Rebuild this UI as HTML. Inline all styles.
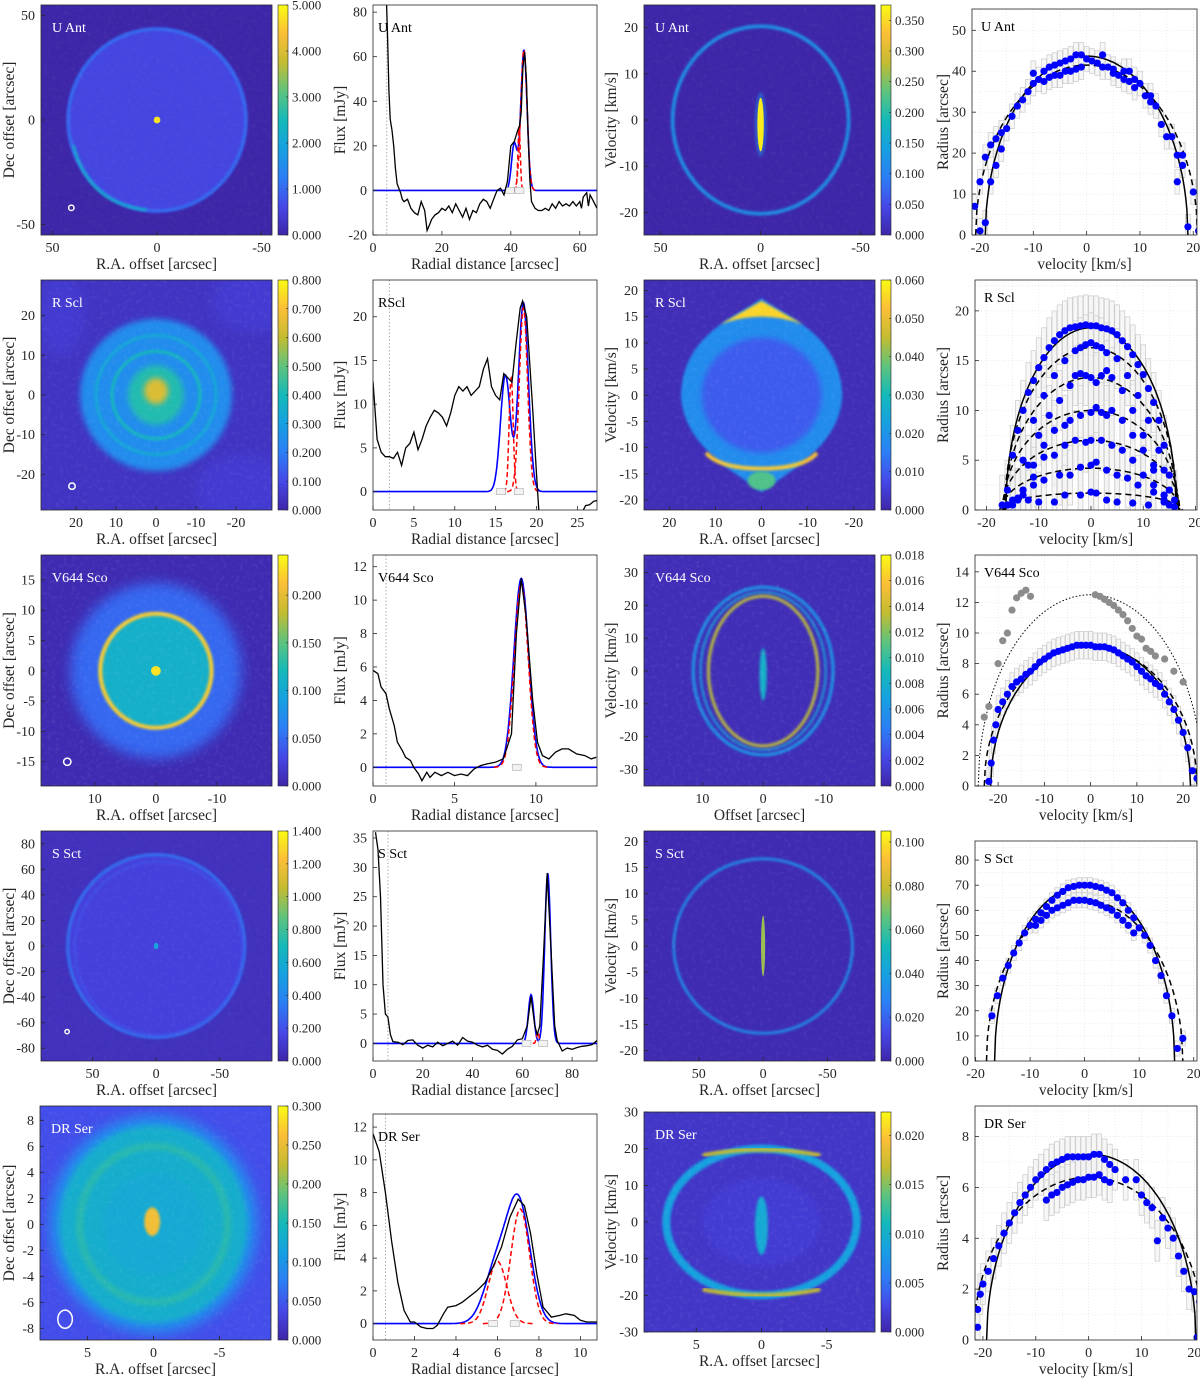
<!DOCTYPE html>
<html><head><meta charset="utf-8"><title>Shell figure</title>
<style>
html,body{margin:0;padding:0;background:#fff;}
svg{display:block;font-family:"Liberation Serif",serif;}
</style></head>
<body>
<svg id="fig" width="1200" height="1379" viewBox="0 0 1200 1379" xmlns="http://www.w3.org/2000/svg">
<defs>
<filter id="b1" x="-20%" y="-20%" width="140%" height="140%"><feGaussianBlur stdDeviation="1.2"/></filter>
<filter id="b2" x="-20%" y="-20%" width="140%" height="140%"><feGaussianBlur stdDeviation="3"/></filter>
<filter id="b3" x="-30%" y="-30%" width="160%" height="160%"><feGaussianBlur stdDeviation="6"/></filter>
<filter id="noise"><feTurbulence type="fractalNoise" baseFrequency="0.25" numOctaves="2" seed="3"/><feColorMatrix type="matrix" values="0 0 0 0 1  0 0 0 0 1  0 0 0 0 1  0 0 0 1.1 -0.55"/></filter>
</defs>
</svg>
<script>
// ---------- Profile data (col 2) ----------
const uAntFluxObs=[[3.8,90],[4.2,70],[4.6,45],[5,32],[5.5,27],[6,20],[6.5,10],[7,3],[7.5,1],[8,-1],[8.5,-4],[9,-5],[10,-4],[11,-8],[12,-10],[13,-11],[14,-5],[15,-9],[15.7,-18],[16.5,-15],[17,-13],[18,-11],[19,-10],[20,-8],[21,-9],[22,-7],[23,-10],[24,-6],[25,-9],[26,-12],[27,-8],[28,-13],[29,-9],[30,-10],[31,-6],[32,-4],[33,-5],[34,-8],[35,-4],[36,0],[37,1],[38,-2],[39,4],[40,20],[41,22],[42,27],[42.5,29],[43,35],[43.5,55],[44,62],[44.5,50],[45,25],[45.5,5],[46,-5],[47,-8],[48,-9],[49,-9],[50,-8],[51,-9],[52,-6],[53,-8],[54,-5],[55,-7],[56,-6],[57,-7],[58,-5],[59,-7],[60,-5],[60.5,-8],[61,-3],[62,-1],[62.5,-7],[63,-2],[64,-5],[65,-8]];
const uAntBlueComps=[[41,21,0.8],[43.8,63,0.9]];
const uAntRedComps=[[42.4,28,0.35],[43.8,63,0.9]];
const rSclFluxObs=[[0,12.6],[0.5,6],[1,4.5],[1.5,4],[2,4],[2.5,3.8],[3,4.5],[3.5,3],[4,5],[4.5,5.5],[5,6.8],[5.5,4.8],[6,6],[6.5,7.5],[7,8.5],[7.5,9.3],[8,9],[8.5,8.5],[9,7.5],[9.5,9],[10,11],[10.5,12],[11,11.5],[11.5,12],[12,11],[12.5,11.5],[13,12],[13.5,14],[14,15.2],[14.5,12],[15,11],[15.5,10.5],[16,13.5],[16.5,13],[17,12.5],[17.5,17],[18,21],[18.3,21.8],[18.8,20],[19.5,10],[20,2],[20.3,-2.5]];
const rSclFluxTail=[[25.5,-2.5],[26,-1.6],[26.5,-1.5],[27,-1.1],[27.5,-1]];
const rSclBlueComps=[[16.2,13.3,0.6],[18.4,21.6,0.6]];
const rSclRedComps=[[16.9,13,0.25],[18.4,21,0.5]];
const v644FluxObs=[[0,5.8],[0.3,5.6],[0.5,4.8],[0.8,4.4],[1,3.5],[1.3,2.5],[1.5,1.5],[1.8,1],[2,0.6],[2.3,0.4],[2.5,0],[2.8,-0.4],[3,-0.8],[3.3,-0.3],[3.5,-0.6],[3.8,-0.3],[4.2,-0.5],[4.6,-0.3],[5,-0.5],[5.4,-0.4],[5.8,-0.5],[6.2,-0.1],[6.6,0.1],[7,0.2],[7.5,0.3],[8,0.5],[8.5,2],[8.8,8],[9.1,11.3],[9.4,9],[9.8,4],[10.1,1.5],[10.4,0.7],[10.8,0.5],[11.2,0.9],[11.6,1.1],[12,1.1],[12.5,0.8],[13,0.7],[13.4,0.5],[13.7,0.6]];
const v644BlueComps=[[9.1,11.3,0.45]];
const v644RedComps=[[9.1,11,0.42]];
const sSctFluxObs=[[1,36],[2,33],[3,25],[4,10],[5,5],[6,4.5],[7,1.5],[8,0.3],[10,0.2],[12,-0.2],[14,0.5],[16,0.6],[18,-0.3],[20,-0.8],[22,-0.3],[24,-0.6],[26,0.2],[28,-0.4],[30,0],[32,0.4],[34,-0.3],[36,1],[38,0.4],[40,0.2],[42,-0.3],[44,-0.6],[46,-0.3],[48,-1],[50,-1.2],[52,-1.8],[54,-1],[56,-0.5],[58,0.6],[60,0.8],[62,3],[63.5,8],[65,3],[66,1.5],[67,3],[68.5,15],[70,29],[71.5,16],[73,3],[74,0.5],[76,-1.3],[78,-0.8],[80,-1],[82,-0.7],[84,-0.5],[86,-0.4],[88,-0.2],[90,0.5]];
const sSctBlueComps=[[63.5,8.3,1.1],[70.2,29,1.2]];
const sSctRedComps=[[66.2,2,0.5]];
const drSerFluxObs=[[0,11.6],[0.3,10.5],[0.6,8],[0.9,5],[1.2,2.5],[1.5,0.8],[1.8,0.1],[2,0.1],[2.3,-0.2],[2.6,-0.3],[2.9,-0.3],[3.1,-0.1],[3.4,0.6],[3.6,1],[4,1.1],[4.3,1.3],[4.6,1.6],[5,2],[5.4,2.5],[5.8,3.5],[6.2,4.7],[6.6,6.5],[7,7.6],[7.3,7.2],[7.6,5.5],[7.9,3],[8.2,1],[8.6,0.4],[9,0.5],[9.3,0.6],[9.7,0.5],[10,0.2],[10.3,0.1],[10.8,0.1]];
const drSerBlueComps=[[6.0,3.6,0.6],[7.05,7,0.55]];
const drSerRedComps=[[6.0,3.8,0.45],[7.1,7,0.45]];

// ---------- Radius-velocity data (col 4) ----------
const uAntShellPts=[[-21,7],[-20,1],[-20,13],[-19,19],[-19,3],[-18,22],[-18,13],[-17,17],[-17,23.5],[-16,25],[-16,21],[-15,26],[-14,29],[-13,31.5],[-12,33],[-11,35],[-10,39.5],[-10,37],[-9,38],[-8,40],[-8,37.5],[-7,41],[-7,38.5],[-6,41.5],[-6,39],[-5,42],[-5,39],[-4,42.5],[-4,40],[-3,43],[-3,40],[-2,44],[-2,40.5],[-1,44],[-1,41],[0,43],[1,42.5],[2,42],[3,44],[3,41],[4,41],[5,40.5],[5,39.5],[6,39],[7,38],[7,40],[8,37.5],[8,40],[9,38],[9,36],[10,37],[11,34],[12,32.5],[12,34],[13,31.5],[14,27],[15,24],[16,24],[17,19.5],[17,13],[18,19.5],[18,17],[19,2],[20,10.5],[21,1]];
const uAntFits=[[43.7,19,0],[41.5,20.8,0]];
const rSclShellPts=[[-16,2],[-15,5.5],[-14,8],[-13,10],[-12,11.8],[-11,13],[-10,14.3],[-9,15.3],[-8,16.3],[-7,17],[-6,17.6],[-5,18],[-4,18.3],[-3,18.4],[-2,18.5],[-1,18.6],[0,18.5],[1,18.5],[2,18.3],[3,18.2],[4,18],[5,17.6],[6,17],[7,16.4],[8,15.6],[9,14.6],[10,13.6],[11,12.2],[12,10.8],[13,9],[14,6.5],[15,3.5],[16,1],
[-15,1],[-13,5],[-11,9],[-9,11.5],[-7,13.5],[-5,15],[-3,16],[-2,16.3],[-1,16.6],[0,16.8],[1,16.5],[2,16.3],[3,15.8],[5,15.2],[7,13.5],[9,11.5],[11,9],[13,6],[14,4],[15,2],
[-14,1],[-12,4.5],[-10,7.5],[-8,9.5],[-6,11],[-4,12.5],[-3,13.5],[-2,13.7],[-1,13.5],[0,13.3],[1,12.8],[2,13.5],[3,14],[4,13.3],[6,12],[8,10],[10,7.5],[12,4.5],[14,1.5],
[-15,0.5],[-13,2],[-11,4.5],[-9,6.5],[-7,8],[-5,8.5],[-4,9],[-2,9.5],[0,9.8],[1,10.3],[2,9.8],[3,9.5],[4,10],[6,9],[8,7.5],[10,6],[12,4],[14,1.5],
[-16,0.5],[-13,2],[-11,3.3],[-9,5.3],[-7,5.5],[-5,6.5],[-3,7],[-1,6.8],[0,7],[2,7],[4,6.5],[6,6],[8,5],[10,3.5],[12,2.5],[14,1],
[-16,0.5],[-13,1.5],[-11,2.5],[-9,3],[-6,3.5],[-4,3.5],[-2,4.3],[0,4.5],[1,4.8],[3,4],[5,3.5],[7,3.2],[9,2.5],[12,1.8],[15,0.5],
[-17,0.5],[-14,1.2],[-12,1],[-10,0.8],[-7,0.8],[-5,1.5],[-2,1.5],[0,1.8],[1,1.7],[3,1],[5,0.8],[8,0.7],[11,0.5],[14,0.8],[16,0.3]];
const rSclFits=[[18.3,16.3,0],[16.3,16.5,0],[13.3,16.5,0],[10,16.8,0],[7,17,0],[4.2,17,0],[1.7,17.5,0]];
const rSclFitStyles=["solid","dash","dash","dash","dash","dash","dash"];
const v644ShellPts=[[-22,0.3],[-21.5,1.5],[-21,3],[-20.5,4],[-20,5],[-19,5.5],[-18,6],[-17,6.5],[-16,6.8],[-15,7],[-14,7.3],[-13,7.5],[-12,7.8],[-11,8.1],[-10,8.3],[-9,8.5],[-8,8.7],[-7,8.8],[-6,8.9],[-5,9],[-4,9.1],[-3,9.2],[-2,9.2],[-1,9.2],[0,9.2],[1,9.1],[2,9.1],[3,9.1],[4,9],[5,8.9],[6,8.7],[7,8.5],[8,8.3],[9,8.1],[10,7.8],[11,7.5],[12,7.2],[13,7],[14,6.7],[15,6.5],[16,6],[17,5.5],[18,5],[19,4.3],[20,3.5],[21,2.5],[22,1],[23,0.5]];
const v644OuterPts=[[-23,4.5],[-22,5.2],[-20,8],[-19,9.5],[-18,10],[-17,11.5],[-16,12.3],[-15,12.6],[-14,12.8],[-13,12.4],[1,12.5],[2,12.4],[3,12.2],[4,12],[5,11.8],[6,11.5],[7,11.2],[8,10.8],[9,10.3],[10,9.8],[11,9.6],[12,9],[13,8.8],[14,8.5],[16,8.3],[18,7.5],[20,6.8]];
const v644Fits=[[12.5,24.3,0],[9.2,21.6,0],[9.1,23,0]];
const v644FitStyles=["dot","solid","dash"];
const sSctShellPts=[[-17,18],[-16,26],[-15,33],[-14,38],[-13,43],[-12,47],[-11,51],[-10,54],[-9,56.5],[-8,59],[-7,61.5],[-6,64],[-5,66],[-4,67.5],[-3,69],[-2,69.5],[-1,70],[0,70],[1,70],[2,69.5],[3,69],[4,68],[5,67],[6,65],[7,63],[8,60],[9,57],[10,53],[11,50],[12,46],[13,40],[14,34],[15,26],[16,18],[17,5],[18,9],
[-9,54],[-8,56],[-7,58],[-6,60],[-5,61],[-4,62],[-3,63],[-2,64],[-1,64],[0,64],[1,63.5],[2,63],[3,62],[4,61],[5,60],[6,58],[7,56],[8,54],[9,51]];
const sSctFits=[[70,16.5,0],[64,18,0]];
const drSerShellPts=[[-21,0.5],[-21,1.2],[-20.5,1.8],[-20,2.2],[-19,2.7],[-18,3.2],[-17,3.7],[-16,4.2],[-15,4.6],[-14,5],[-13,5.4],[-12,5.7],[-11,6],[-10,6.3],[-9,6.5],[-8,6.7],[-7,6.9],[-6,7],[-5,7.1],[-4,7.2],[-3,7.2],[-2,7.2],[-1,7.2],[0,7.2],[1,7.3],[2,7.3],[3,7.1],[4,6.9],[5,6.7],[7,6.3],[9,6.3],[10,5.7],[11,5.4],[12,5.2],[13,3.9],[14,4.8],[15,4.4],[16,4],[17,3.3],[18,2.7],[19,2],[20,1.9],[21,1.5],[22,0.7],[20.5,0.1],
[-8,5.5],[-7,5.7],[-6,5.8],[-5,6],[-4,6.1],[-3,6.2],[-2,6.3],[-1,6.3],[0,6.4],[1,6.4],[2,6.5],[3,6.3],[4,6.2]];
const drSerFits=[[7.3,19.8,0.5],[6.4,21.8,0]];

// ---------- Colorbar tick labels ----------
const uAntMapTicks=["0.000","1.000","2.000","3.000","4.000","5.000"];
const rSclMapTicks=["0.000","0.100","0.200","0.300","0.400","0.500","0.600","0.700","0.800"];
const v644MapTicks=["0.000","0.050","0.100","0.150","0.200"];
const sSctMapTicks=["0.000","0.200","0.400","0.600","0.800","1.000","1.200","1.400"];
const drSerMapTicks=["0.000","0.050","0.100","0.150","0.200","0.250","0.300"];
const uAntPvTicks=["0.000","0.050","0.100","0.150","0.200","0.250","0.300","0.350"];
const rSclPvTicks=["0.000","0.010","0.020","0.030","0.040","0.050","0.060"];
const v644PvTicks=["0.000","0.002","0.004","0.006","0.008","0.010","0.012","0.014","0.016","0.018"];
const sSctPvTicks=["0.000","0.020","0.040","0.060","0.080","0.100"];
const drSerPvTicks=["0.000","0.005","0.010","0.015","0.020"];

// ---------- helpers ----------
const NS='http://www.w3.org/2000/svg';
const svg=document.getElementById('fig');
function add(parent,tag,attrs,name){
  const el=document.createElementNS(NS,tag);
  for(const k in attrs) el.setAttribute(k,attrs[k]);
  
  
  parent.appendChild(el);
  return el;
}
function txt(parent,x,y,s,attrs,name){
  const el=add(parent,'text',Object.assign({x:x,y:y},attrs||{}),name);
  el.textContent=s;
  return el;
}
const stops=[[0,[62,38,168]],[0.125,[70,72,232]],[0.25,[44,126,245]],[0.375,[22,160,225]],[0.5,[20,185,185]],[0.625,[95,195,125]],[0.75,[195,188,50]],[0.875,[252,190,55]],[1,[249,251,20]]];
function cm(t){
  t=Math.max(0,Math.min(1,t));
  for(let i=1;i<stops.length;i++){
    if(t<=stops[i][0]){
      const a=stops[i-1],b=stops[i],f=(t-a[0])/(b[0]-a[0]);
      const c=a[1].map((v,j)=>Math.round(v+(b[1][j]-v)*f));
      return 'rgb('+c.join(',')+')';
    }
  }
  return 'rgb(249,251,20)';
}
const defs=svg.querySelector('defs');
const lg=add(defs,'linearGradient',{id:'parula',x1:0,y1:1,x2:0,y2:0},'parula-gradient');
stops.forEach(s=>{add(lg,'stop',{offset:s[0],'stop-color':cm(s[0])},'gradient-stop');});

function scales(box,xl,yl){
  return {
    sx:v=>box.x0+(v-xl[0])/(xl[1]-xl[0])*(box.x1-box.x0),
    sy:v=>box.y1-(v-yl[0])/(yl[1]-yl[0])*(box.y1-box.y0),
    kx:(box.x1-box.x0)/Math.abs(xl[1]-xl[0]),
    ky:(box.y1-box.y0)/(yl[1]-yl[0])
  };
}
function frame(g,box,ticksX,ticksY,S,opt){
  add(g,'rect',{x:box.x0,y:box.y0,width:box.x1-box.x0,height:box.y1-box.y0,fill:'none',stroke:'#262626','stroke-width':0.8},'axes-frame');
  ticksX.forEach(t=>{
    const x=S.sx(t);
    add(g,'line',{x1:x,y1:box.y1,x2:x,y2:box.y1-4,stroke:'#262626','stroke-width':0.8},'x-tick');
    txt(g,x,box.y1+17,String(t),{'font-size':14,'text-anchor':'middle',fill:'#262626'},'x-tick-label');
  });
  ticksY.forEach(t=>{
    const y=S.sy(t);
    add(g,'line',{x1:box.x0,y1:y,x2:box.x0+4,y2:y,stroke:'#262626','stroke-width':0.8},'y-tick');
    txt(g,box.x0-6,y+4.5,String(t),{'font-size':14,'text-anchor':'end',fill:'#262626'},'y-tick-label');
  });
  txt(g,(box.x0+box.x1)/2,box.y1+34,opt.xlabel,{'font-size':15.5,'text-anchor':'middle',fill:'#262626'},'x-axis-title');
  const yx=opt.ylabelX, yy=(box.y0+box.y1)/2;
  txt(g,yx,yy,opt.ylabel,{'font-size':15.5,'text-anchor':'middle',fill:'#262626',transform:'rotate(-90 '+yx+' '+yy+')'},'y-axis-title');
}
function cbar(g,x0,x1,y0,y1,labels,vmax){
  add(g,'rect',{x:x0,y:y0,width:x1-x0,height:y1-y0,fill:'url(#parula)',stroke:'#262626','stroke-width':0.6},'colorbar');
  labels.forEach(l=>{
    const y=y1-parseFloat(l)/vmax*(y1-y0);
    add(g,'line',{x1:x1-2,y1:y,x2:x1,y2:y,stroke:'#262626','stroke-width':0.6},'colorbar-tick');
    txt(g,x1+4,y+4.5,l,{'font-size':13,fill:'#262626'},'colorbar-tick-label');
  });
}
let clipN=0;
function clipG(parent,box,name){
  const id='clip'+(clipN++);
  const cp=add(defs,'clipPath',{id:id},'clip-path');
  add(cp,'rect',{x:box.x0,y:box.y0,width:box.x1-box.x0,height:box.y1-box.y0},'clip-rect');
  return add(parent,'g',{'clip-path':'url(#'+id+')'},name);
}
function gauss(c,x){return c[1]*Math.exp(-((x-c[0])*(x-c[0]))/(2*c[2]*c[2]));}

function imagePanel(cfg){
  const g=add(svg,'g',{},cfg.name);
  const S=scales(cfg.box,cfg.xl,cfg.yl);
  const cg=clipG(g,cfg.box,cfg.name+'-image');
  add(cg,'rect',{x:cfg.box.x0,y:cfg.box.y0,width:cfg.box.x1-cfg.box.x0,height:cfg.box.y1-cfg.box.y0,fill:cm(cfg.bg)},'image-background');
  cfg.layers.forEach(L=>{
    const cx=S.sx(L.cx||0), cy=S.sy(L.cy||0), rx=L.rx*S.kx, ry=L.ry*S.ky;
    const a={cx:cx,cy:cy,rx:rx,ry:ry};
    if(L.fill!==undefined){a.fill=cm(L.fill);}else{a.fill='none';}
    if(L.stroke!==undefined){a.stroke=cm(L.stroke);a['stroke-width']=L.sw;}
    if(L.blur) a.filter='url(#'+L.blur+')';
    if(L.op) a.opacity=L.op;
    add(cg,'ellipse',a,L.name||'emission');
  });
  if(cfg.paths) cfg.paths(cg,S);
  add(cg,'rect',{x:cfg.box.x0,y:cfg.box.y0,width:cfg.box.x1-cfg.box.x0,height:cfg.box.y1-cfg.box.y0,filter:'url(#noise)',opacity:cfg.noise||0.12},'image-noise');
  if(cfg.beam){
    add(cg,'ellipse',{cx:S.sx(cfg.beam[0]),cy:S.sy(cfg.beam[1]),rx:cfg.beam[2]*S.kx,ry:cfg.beam[3]*S.ky,fill:'none',stroke:'#fff','stroke-width':1.5},'beam-ellipse');
  }
  txt(g,cfg.box.x0+11,cfg.box.y0+27,cfg.title,{'font-size':14,fill:'#fff'},'panel-title');
  frame(g,cfg.box,cfg.xt,cfg.yt,S,{xlabel:cfg.xlabel,ylabel:cfg.ylabel,ylabelX:cfg.ylx});
  cbar(g,cfg.cb[0],cfg.cb[1],cfg.box.y0,cfg.box.y1,cfg.cbTicks,cfg.cbMax);
}

function profilePanel(cfg){
  const g=add(svg,'g',{},cfg.name);
  const S=scales(cfg.box,cfg.xl,cfg.yl);
  add(g,'rect',{x:cfg.box.x0,y:cfg.box.y0,width:cfg.box.x1-cfg.box.x0,height:cfg.box.y1-cfg.box.y0,fill:'#fff'},'plot-background');
  const cg=clipG(g,cfg.box,cfg.name+'-plot');
  const dx=S.sx(cfg.dot);
  add(cg,'line',{x1:dx,y1:cfg.box.y0,x2:dx,y2:cfg.box.y1,stroke:'#999','stroke-width':0.8,'stroke-dasharray':'1.5,2'},'beam-size-line');
  const N=400;let d='';
  for(let i=0;i<=N;i++){
    const x=cfg.xl[0]+(cfg.xl[1]-cfg.xl[0])*i/N;
    let y=0;cfg.blue.forEach(c=>{y+=gauss(c,x);});
    d+=(i?'L':'M')+S.sx(x).toFixed(1)+' '+S.sy(y).toFixed(1);
  }
  add(cg,'path',{d:d,fill:'none',stroke:'#0000ff','stroke-width':1.6},'gaussian-fit-total');
  cfg.red.forEach(c=>{
    let dd='';
    for(let i=0;i<=80;i++){
      const x=c[0]-4*c[2]+8*c[2]*i/80;
      dd+=(i?'L':'M')+S.sx(x).toFixed(1)+' '+S.sy(gauss(c,x)).toFixed(1);
    }
    add(cg,'path',{d:dd,fill:'none',stroke:'#ff0000','stroke-width':1.5,'stroke-dasharray':'5,3'},'gaussian-component');
  });
  cfg.blue.forEach(c=>{
    add(cg,'rect',{x:S.sx(c[0])-9,y:S.sy(0)-3,width:9,height:6,fill:'#f2f2f2',stroke:'#aaa','stroke-width':0.6},'peak-marker');
  });
  cfg.obs.forEach(series=>{
    let p='';series.forEach((q,i)=>{p+=(i?'L':'M')+S.sx(q[0]).toFixed(1)+' '+S.sy(q[1]).toFixed(1);});
    add(cg,'path',{d:p,fill:'none',stroke:'#000','stroke-width':1.3},'observed-profile');
  });
  txt(g,cfg.box.x0+5,cfg.box.y0+27,cfg.title,{'font-size':14,fill:'#000'},'panel-title');
  frame(g,cfg.box,cfg.xt,cfg.yt,S,{xlabel:'Radial distance [arcsec]',ylabel:'Flux [mJy]',ylabelX:345});
}

function rvPanel(cfg){
  const g=add(svg,'g',{},cfg.name);
  const S=scales(cfg.box,cfg.xl,cfg.yl);
  const cg=clipG(g,cfg.box,cfg.name+'-plot');
  cfg.gx.forEach(v=>{add(cg,'line',{x1:S.sx(v),y1:cfg.box.y0,x2:S.sx(v),y2:cfg.box.y1,stroke:'#e4e4e4','stroke-width':0.7,'stroke-dasharray':'1,2'},'grid-line');});
  cfg.gy.forEach(v=>{add(cg,'line',{x1:cfg.box.x0,y1:S.sy(v),x2:cfg.box.x1,y2:S.sy(v),stroke:'#e4e4e4','stroke-width':0.7,'stroke-dasharray':'1,2'},'grid-line');});
  cfg.pts.forEach(p=>{
    add(cg,'rect',{x:S.sx(p[0]-0.45),y:S.sy(p[1]+cfg.err),width:0.9*S.kx,height:2*cfg.err*S.ky,fill:'#f1f1f1','fill-opacity':0.6,stroke:'#cfcfcf','stroke-width':0.8},'error-box');
  });
  cfg.fits.forEach((f,i)=>{
    let d='';
    for(let k=0;k<=200;k++){
      const v=f[2]-f[1]+2*f[1]*k/200;
      const r=f[0]*Math.sqrt(Math.max(0,1-Math.pow((v-f[2])/f[1],2)));
      d+=(k?'L':'M')+S.sx(v).toFixed(1)+' '+S.sy(r).toFixed(1);
    }
    const st=cfg.styles[i];
    const a={d:d,fill:'none',stroke:'#000','stroke-width':st==='dot'?1:1.5};
    if(st==='dash') a['stroke-dasharray']='6,4';
    if(st==='dot') a['stroke-dasharray']='1.5,2';
    add(cg,'path',a,'shell-fit-curve');
  });
  if(cfg.gray) cfg.gray.forEach(p=>{add(cg,'circle',{cx:S.sx(p[0]),cy:S.sy(p[1]),r:3.6,fill:'#8c8c8c'},'outer-shell-point');});
  cfg.pts.forEach(p=>{add(cg,'circle',{cx:S.sx(p[0]),cy:S.sy(p[1]),r:3.6,fill:'#0000ff'},'shell-point');});
  txt(g,cfg.box.x0+9,cfg.box.y0+22,cfg.title,{'font-size':14,fill:'#000'},'panel-title');
  frame(g,cfg.box,cfg.xt,cfg.yt,S,{xlabel:'velocity [km/s]',ylabel:'Radius [arcsec]',ylabelX:948});
}

const C1={x0:41,x1:272},CB1=[278,288],C2={x0:373,x1:597},C3={x0:644,x1:875},CB3=[881,891],C4={x0:975,x1:1197};
function B(c,y0,y1){return {x0:c.x0,x1:c.x1,y0:y0,y1:y1};}

// Row 1: U Ant
imagePanel({name:'u-ant-map',title:'U Ant',box:B(C1,5,235),xl:[55.5,-55],yl:[-55,55],xt:[50,0,-50],yt:[-50,0,50],bg:0.0,
 layers:[{rx:43,ry:44,fill:0.11,blur:'b1'},{rx:42.5,ry:43.5,stroke:0.22,sw:3,blur:'b1'},{cx:0,cy:0,rx:1.6,ry:1.6,fill:0.95,name:'central-star'}],
 paths:(cg,S)=>{const d='M'+S.sx(40)+' '+S.sy(-12)+' Q'+S.sx(33)+' '+S.sy(-40)+' '+S.sx(5)+' '+S.sy(-43);add(cg,'path',{d:d,fill:'none',stroke:cm(0.45),'stroke-width':2.5,filter:'url(#b1)'},'bright-rim');},
 beam:[41,-42,1.3,1.3],cb:CB1,cbTicks:uAntMapTicks,cbMax:5,xlabel:'R.A. offset [arcsec]',ylabel:'Dec offset [arcsec]',ylx:14,noise:0.1});
profilePanel({name:'u-ant-profile',title:'U Ant',box:B(C2,5,235),xl:[0,65],yl:[-20,83.2],xt:[0,20,40,60],yt:[-20,0,20,40,60,80],dot:4,obs:[uAntFluxObs],blue:uAntBlueComps,red:uAntRedComps});
imagePanel({name:'u-ant-pv',title:'U Ant',box:B(C3,5,235),xl:[58.3,-57.2],yl:[-24.9,24.9],xt:[50,0,-50],yt:[-20,-10,0,10,20],bg:0.0,
 layers:[{rx:44,ry:20.3,stroke:0.33,sw:3.5,blur:'b1'},{cx:0,cy:-1,rx:3,ry:7,fill:0.3,op:0.5,blur:'b1',name:'star-halo'},{cx:0,cy:-1,rx:1.6,ry:5.8,fill:0.97,name:'central-star-emission'}],
 cb:CB3,cbTicks:uAntPvTicks,cbMax:0.375,xlabel:'R.A. offset [arcsec]',ylabel:'Velocity [km/s]',ylx:616,noise:0.1});
rvPanel({name:'u-ant-radius-velocity',title:'U Ant',box:B({x0:972,x1:1197},9,235),xl:[-21.5,20.7],yl:[0,55.2],xt:[-20,-10,0,10,20],yt:[0,10,20,30,40,50],
 gx:[-20,-15,-10,-5,0,5,10,15,20],gy:[5,10,15,20,25,30,35,40,45,50,55],pts:uAntShellPts,err:3,fits:uAntFits,styles:['solid','dash']});

// Row 2: R Scl
imagePanel({name:'r-scl-map',title:'R Scl',box:B(C1,280,510),xl:[28.75,-29],yl:[-29,29],xt:[20,10,0,-10,-20],yt:[-20,-10,0,10,20],bg:0.05,
 layers:[{cx:-24,cy:24,rx:10,ry:8,fill:0.1,op:0.6,blur:'b3',name:'background-patch'},{cx:-22,cy:-24,rx:12,ry:9,fill:0.1,op:0.6,blur:'b3',name:'background-patch'},{cx:24,cy:20,rx:6,ry:10,fill:0.1,op:0.6,blur:'b3',name:'background-patch'},
  {rx:19,ry:19.2,fill:0.3,blur:'b2'},{rx:15,ry:15,stroke:0.42,sw:3,blur:'b1'},{rx:11,ry:11,stroke:0.5,sw:3,blur:'b1'},{rx:7,ry:7.5,fill:0.52,blur:'b2'},{cx:0,cy:1,rx:3,ry:3.3,fill:0.8,blur:'b2',name:'central-star'}],
 beam:[21,-23,0.8,0.8],cb:CB1,cbTicks:rSclMapTicks,cbMax:0.8,xlabel:'R.A. offset [arcsec]',ylabel:'Dec offset [arcsec]',ylx:14,noise:0.14});
profilePanel({name:'r-scl-profile',title:'RScl',box:B(C2,280,510),xl:[0,27.4],yl:[-2.1,24.2],xt:[0,5,10,15,20,25],yt:[0,5,10,15,20],dot:2,obs:[rSclFluxObs,rSclFluxTail],blue:rSclBlueComps,red:rSclRedComps});
imagePanel({name:'r-scl-pv',title:'R Scl',box:B(C3,280,510),xl:[25.5,-24.6],yl:[-21.9,22],xt:[20,10,0,-10,-20],yt:[-20,-15,-10,-5,0,5,10,15,20],bg:0.03,
 layers:[],
 paths:(cg,S)=>{
   const P=(v,r)=>S.sx(v).toFixed(1)+' '+S.sy(r).toFixed(1);
   const lemon='M'+P(0,18.5)+' C'+P(5,15)+' '+P(17,12)+' '+P(17.5,0)+' C'+P(17,-10)+' '+P(5,-15)+' '+P(0,-18.5)+' C'+P(-5,-15)+' '+P(-17,-10)+' '+P(-17.5,0)+' C'+P(-17,12)+' '+P(-5,15)+' '+P(0,18.5)+'Z';
   add(cg,'path',{d:lemon,fill:cm(0.3),filter:'url(#b1)'},'shell-emission');
   add(cg,'ellipse',{cx:S.sx(0),cy:S.sy(0),rx:13*S.kx,ry:11*S.ky,fill:cm(0.17),filter:'url(#b2)'},'shell-interior');
   add(cg,'path',{d:'M'+P(-9,13.5)+' Q'+P(0,16.5)+' '+P(9,13.5)+' L'+P(0,18)+'Z',fill:cm(0.92),filter:'url(#b1)'},'front-cap');
   add(cg,'path',{d:'M'+P(-12,-11)+' Q'+P(-9,-14)+' '+P(0,-14)+' Q'+P(9,-14)+' '+P(12,-11),fill:'none',stroke:cm(0.9),'stroke-width':4,filter:'url(#b1)'},'rear-band');
   add(cg,'ellipse',{cx:S.sx(0),cy:S.sy(-16.3),rx:3*S.kx,ry:1.8*S.ky,fill:cm(0.6),filter:'url(#b1)'},'rear-tip');
 },
 cb:CB3,cbTicks:rSclPvTicks,cbMax:0.06,xlabel:'R.A. offset [arcsec]',ylabel:'Velocity [km/s]',ylx:616,noise:0.14});
rvPanel({name:'r-scl-radius-velocity',title:'R Scl',box:B(C4,280,510),xl:[-22.2,20.3],yl:[0,23.1],xt:[-20,-10,0,10,20],yt:[0,5,10,15,20],
 gx:[-20,-15,-10,-5,0,5,10,15,20],gy:[2.5,5,7.5,10,12.5,15,17.5,20,22.5],pts:rSclShellPts,err:3,fits:rSclFits,styles:rSclFitStyles});

// Row 3: V644 Sco
imagePanel({name:'v644-sco-map',title:'V644 Sco',box:B(C1,555,786),xl:[18.8,-19],yl:[-19,19.1],xt:[10,0,-10],yt:[-15,-10,-5,0,5,10,15],bg:0.02,
 layers:[{rx:14,ry:14.5,fill:0.2,blur:'b3',name:'halo'},{rx:9.3,ry:9.5,fill:0.45,blur:'b1'},{rx:9.1,ry:9.4,stroke:0.9,sw:4,blur:'b1',name:'bright-shell'},{rx:0.8,ry:0.8,fill:0.95,name:'central-star'}],
 beam:[14.5,-15,0.6,0.6],cb:CB1,cbTicks:v644MapTicks,cbMax:0.242,xlabel:'R.A. offset [arcsec]',ylabel:'Dec offset [arcsec]',ylx:14,noise:0.16});
profilePanel({name:'v644-sco-profile',title:'V644 Sco',box:B(C2,555,786),xl:[0,13.75],yl:[-1.12,12.7],xt:[0,5,10],yt:[0,2,4,6,8,10,12],dot:0.8,obs:[v644FluxObs],blue:v644BlueComps,red:v644RedComps});
imagePanel({name:'v644-sco-pv',title:'V644 Sco',box:B(C3,555,786),xl:[19.6,-18.4],yl:[-35,35.3],xt:[10,0,-10],yt:[-30,-20,-10,0,10,20,30],bg:0.03,
 layers:[{rx:11.5,ry:25.5,stroke:0.35,sw:3,blur:'b1',name:'outer-shell'},{rx:10.3,ry:24,stroke:0.4,sw:2,blur:'b1',name:'middle-shell'},{rx:9,ry:22.8,stroke:0.74,sw:3,blur:'b1',name:'bright-shell'},{cx:0,cy:-1,rx:0.6,ry:8,fill:0.45,blur:'b1',name:'central-star-emission'}],
 cb:CB3,cbTicks:v644PvTicks,cbMax:0.018,xlabel:'Offset [arcsec]',ylabel:'Velocity [km/s]',ylx:616,noise:0.16});
rvPanel({name:'v644-sco-radius-velocity',title:'V644 Sco',box:B(C4,555,786),xl:[-25,23],yl:[0,15.1],xt:[-20,-10,0,10,20],yt:[0,2,4,6,8,10,12,14],
 gx:[-20,-15,-10,-5,0,5,10,15,20],gy:[1,2,3,4,5,6,7,8,9,10,11,12,13,14,15],pts:v644ShellPts,gray:v644OuterPts,err:0.9,fits:v644Fits,styles:v644FitStyles});

// Row 4: S Sct
imagePanel({name:'s-sct-map',title:'S Sct',box:B(C1,831,1061),xl:[90.5,-91],yl:[-90,90],xt:[50,0,-50],yt:[-80,-60,-40,-20,0,20,40,60,80],bg:0.04,
 layers:[{rx:70,ry:72,fill:0.1,blur:'b1'},{rx:69.5,ry:71.5,stroke:0.24,sw:2.5,blur:'b1'},{cx:-2,cy:-2,rx:66,ry:68,stroke:0.16,sw:1.5,blur:'b1',name:'inner-shell'},{rx:1.8,ry:2.5,fill:0.4,name:'central-star'}],
 beam:[70,-67,1.7,1.7],cb:CB1,cbTicks:sSctMapTicks,cbMax:1.4,xlabel:'R.A. offset [arcsec]',ylabel:'Dec offset [arcsec]',ylx:14,noise:0.1});
profilePanel({name:'s-sct-profile',title:'S Sct',box:B(C2,831,1061),xl:[0,90],yl:[-3,36.2],xt:[0,20,40,60,80],yt:[0,5,10,15,20,25,30,35],dot:6,obs:[sSctFluxObs],blue:sSctBlueComps,red:sSctRedComps});
imagePanel({name:'s-sct-pv',title:'S Sct',box:B(C3,831,1061),xl:[92.6,-87],yl:[-22,22],xt:[50,0,-50],yt:[-20,-15,-10,-5,0,5,10,15,20],bg:0.02,
 layers:[{rx:69.5,ry:16.7,stroke:0.33,sw:2.5,blur:'b1'},{cx:0,cy:0,rx:1.6,ry:5.8,fill:0.7,name:'central-star-emission'}],
 cb:CB3,cbTicks:sSctPvTicks,cbMax:0.105,xlabel:'R.A. offset [arcsec]',ylabel:'Velocity [km/s]',ylx:616,noise:0.12});
rvPanel({name:'s-sct-radius-velocity',title:'S Sct',box:B(C4,841,1061),xl:[-20.1,20.6],yl:[0,87.6],xt:[-20,-10,0,10,20],yt:[0,10,20,30,40,50,60,70,80],
 gx:[-20,-15,-10,-5,0,5,10,15,20],gy:[5,10,15,20,25,30,35,40,45,50,55,60,65,70,75,80,85],pts:sSctShellPts,err:3,fits:sSctFits,styles:['solid','dash']});

// Row 5: DR Ser
imagePanel({name:'dr-ser-map',title:'DR Ser',box:B({x0:40,x1:271},1106,1340),xl:[8.6,-8.9],yl:[-8.9,9.1],xt:[5,0,-5],yt:[-8,-6,-4,-2,0,2,4,6,8],bg:0.14,
 layers:[{rx:7.9,ry:8.4,fill:0.3,blur:'b3'},{rx:7.1,ry:7.6,fill:0.44,blur:'b2'},{rx:5.6,ry:6,stroke:0.55,sw:5,blur:'b2',name:'rim-ring'},{rx:3.8,ry:4,fill:0.42,blur:'b2',name:'inner-region'},{cx:0.1,cy:0.2,rx:0.6,ry:1.1,fill:0.85,blur:'b1',name:'central-star'}],
 beam:[6.7,-7.3,0.55,0.7],cb:CB1,cbTicks:drSerMapTicks,cbMax:0.3,xlabel:'R.A. offset [arcsec]',ylabel:'Dec offset [arcsec]',ylx:14,noise:0.14});
profilePanel({name:'dr-ser-profile',title:'DR Ser',box:B(C2,1114,1340),xl:[0,10.8],yl:[-1,12.8],xt:[0,2,4,6,8,10],yt:[0,2,4,6,8,10,12],dot:0.6,obs:[drSerFluxObs],blue:drSerBlueComps,red:drSerRedComps});
imagePanel({name:'dr-ser-pv',title:'DR Ser',box:B(C3,1112,1332),xl:[9,-8.7],yl:[-30,30],xt:[5,0,-5],yt:[-30,-20,-10,0,10,20,30],bg:0.06,
 layers:[{rx:7.3,ry:20,stroke:0.38,sw:8,blur:'b1'},{rx:4.5,ry:12,fill:0.1,op:0.6,blur:'b2',name:'interior'},{cx:0,cy:-1,rx:0.5,ry:8,fill:0.42,blur:'b1',name:'central-star-emission'}],
 paths:(cg,S)=>{
   const P=(v,r)=>S.sx(v).toFixed(1)+' '+S.sy(r).toFixed(1);
   add(cg,'path',{d:'M'+P(-4.5,18.2)+' Q'+P(0,21.3)+' '+P(4.5,18.2),fill:'none',stroke:cm(0.75),'stroke-width':4,filter:'url(#b1)'},'front-cap');
   add(cg,'path',{d:'M'+P(-4.5,-18.4)+' Q'+P(0,-21.5)+' '+P(4.5,-18.4),fill:'none',stroke:cm(0.75),'stroke-width':4,filter:'url(#b1)'},'rear-cap');
 },
 cb:CB3,cbTicks:drSerPvTicks,cbMax:0.0224,xlabel:'R.A. offset [arcsec]',ylabel:'Velocity [km/s]',ylx:616,noise:0.16});
rvPanel({name:'dr-ser-radius-velocity',title:'DR Ser',box:B(C4,1106,1340),xl:[-21.5,20.5],yl:[0,9.2],xt:[-20,-10,0,10,20],yt:[0,2,4,6,8],
 gx:[-20,-15,-10,-5,0,5,10,15,20],gy:[1,2,3,4,5,6,7,8,9],pts:drSerShellPts,err:0.8,fits:drSerFits,styles:['solid','dash']});
</script>
</body></html>
